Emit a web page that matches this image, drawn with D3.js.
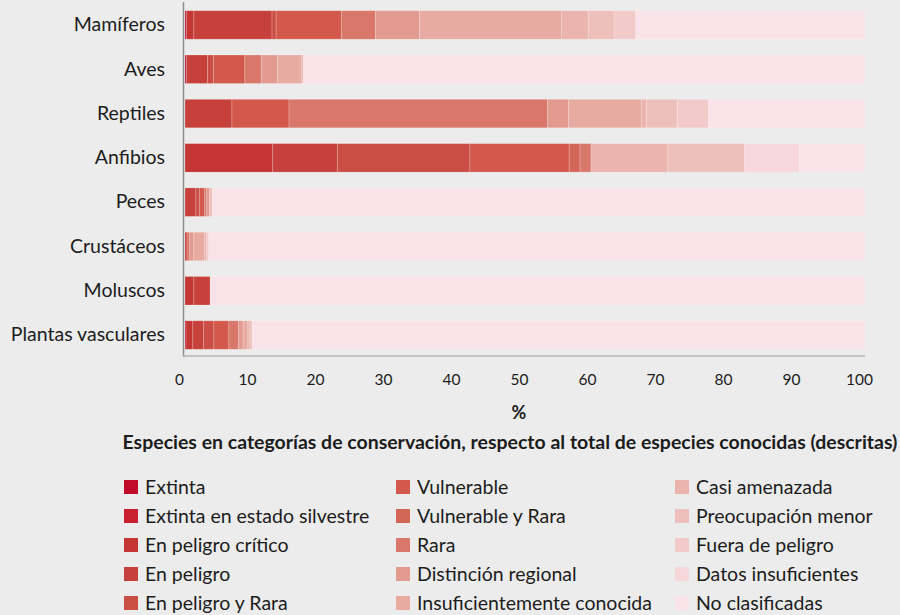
<!DOCTYPE html>
<html lang="es">
<head>
<meta charset="utf-8">
<script src="https://cdn.jsdelivr.net/npm/d3@7"></script>
<style>
  html, body { margin: 0; padding: 0; background: #ececec; }
  svg { display: block; font-family: Lato, "Open Sans", sans-serif; }
</style>
</head>
<body>
<svg id="chart" width="900" height="615"></svg>
<script>
// Grupos taxonómicos (filas) y categorías de conservación (segmentos)
const categories = ["Mamíferos", "Aves", "Reptiles", "Anfibios", "Peces", "Crustáceos", "Moluscos", "Plantas vasculares"];

const seriesNames = [
  "Extinta", "Extinta en estado silvestre", "En peligro crítico", "En peligro", "En peligro y Rara",
  "Vulnerable", "Vulnerable y Rara", "Rara", "Distinción regional", "Insuficientemente conocida",
  "Casi amenazada", "Preocupación menor", "Fuera de peligro", "Datos insuficientes", "No clasificadas"
];

const seriesColors = [
  "#c20b2b", "#c8202e", "#c43634", "#c7413c", "#cb4e45",
  "#d2594b", "#d46658", "#d8776a", "#e39a8f", "#e8aba1",
  "#ebb4ac", "#eec0bb", "#f2caca", "#f6d7da", "#fae3e8"
];

// Porcentaje de especies en cada categoría (mismo orden que seriesNames)
const mamiferos  = [0.2, 0, 1.1, 11.5, 0.6, 9.6, 0, 5.0, 6.5, 20.9, 3.9, 3.8, 3.2, 0, 33.7];
const aves       = [0.2, 0, 0, 3.1, 0.9, 4.6, 0, 2.4, 2.4, 3.5, 0.3, 0, 0, 0, 82.6];
const reptiles   = [0, 0, 0, 6.9, 0, 8.4, 0, 38.0, 3.1, 10.7, 0.8, 4.5, 4.6, 0, 23.0];
const anfibios   = [0, 0, 12.9, 9.5, 19.5, 14.6, 1.6, 1.6, 0, 0, 11.3, 11.3, 0, 8.1, 9.6];
const peces      = [0, 0, 0, 1.6, 0.5, 0.8, 0, 0.3, 0.4, 0.2, 0.2, 0, 0, 0, 96.0];
const crustaceos = [0, 0, 0, 0.3, 0, 0, 0, 0.4, 0.6, 1.6, 0.3, 0, 0.3, 0, 96.5];
const moluscos   = [0, 0, 1.3, 2.4, 0, 0, 0, 0, 0, 0, 0, 0, 0, 0, 96.3];
const plantas    = [0.15, 0, 1.0, 1.6, 1.5, 2.2, 0, 1.4, 0.7, 0.7, 0.3, 0.35, 0, 0, 90.1];

const xTicks = [0, 10, 20, 30, 40, 50, 60, 70, 80, 90, 100];
const axisTitle = "%";
const chartTitle = "Especies en categorías de conservación, respecto al total de especies conocidas (descritas)";

// Tabla para d3.stack
const rowsValues = [mamiferos, aves, reptiles, anfibios, peces, crustaceos, moluscos, plantas];
const table = categories.map((c, i) => {
  const row = { category: c };
  seriesNames.forEach((s, j) => { row[s] = rowsValues[i][j]; });
  return row;
});

const svg = d3.select("#chart");

const x = d3.scaleLinear().domain([0, 100]).range([185, 865]);
const y = d3.scaleBand().domain(categories).range([2.8, 357.2]).paddingInner(0.357).paddingOuter(0.1785);
const color = d3.scaleOrdinal().domain(seriesNames).range(seriesColors);

const stacked = d3.stack().keys(seriesNames)(table);

// Barras apiladas
svg.append("g")
  .selectAll("g")
  .data(stacked)
  .join("g")
    .attr("fill", d => color(d.key))
  .selectAll("rect")
  .data(d => d)
  .join("rect")
    .attr("x", d => x(d[0]))
    .attr("y", d => y(d.data.category))
    .attr("width", d => Math.max(0, x(d[1]) - x(d[0])))
    .attr("height", y.bandwidth())
    .attr("stroke", "#ffffff")
    .attr("stroke-opacity", d => (d[1] - d[0]) > 0 ? 0.25 : 0)
    .attr("stroke-width", 0.8);

// Ejes
svg.append("line")
  .attr("x1", 183.5).attr("x2", 183.5)
  .attr("y1", 2).attr("y2", 357)
  .attr("stroke", "#8f8f8f").attr("stroke-width", 1.5);
svg.append("line")
  .attr("x1", 183).attr("x2", 865)
  .attr("y1", 356).attr("y2", 356)
  .attr("stroke", "#b4b4b4").attr("stroke-width", 1.5);

// Etiquetas de categoría
const yAxis = d3.axisLeft(y).tickSize(0).tickPadding(0);
const gy = svg.append("g").attr("transform", "translate(165,0)").call(yAxis);
gy.select(".domain").remove();
gy.selectAll("text")
  .attr("font-family", "Lato, sans-serif")
  .attr("font-size", 19.5)
  .attr("fill", "#1c1c1c");

// Etiquetas del eje X
const xAxis = d3.axisBottom(x).tickValues(xTicks).tickSize(0).tickPadding(0);
const gx = svg.append("g").attr("transform", "translate(-6,374)").call(xAxis);
gx.select(".domain").remove();
gx.selectAll("text")
  .attr("font-family", "Lato, sans-serif")
  .attr("font-size", 15.5)
  .attr("fill", "#1c1c1c");

// Títulos
svg.append("text")
  .attr("x", 519).attr("y", 412)
  .attr("text-anchor", "middle").attr("dominant-baseline", "central")
  .attr("font-size", 18).attr("font-weight", "bold").attr("fill", "#1c1c1c")
  .text(axisTitle);

const title = svg.append("text")
  .attr("x", 510).attr("y", 441)
  .attr("text-anchor", "middle").attr("dominant-baseline", "central")
  .attr("font-size", 17).attr("font-weight", "bold").attr("fill", "#1c1c1c")
  .text(chartTitle);
const tw = title.node().getComputedTextLength();
if (tw > 0) title.attr("font-size", 17 * 775 / tw);

// Leyenda en tres columnas
const colX = [124, 396, 675];
const rowY = [480, 509, 538, 567, 596];
const legend = svg.append("g");
seriesNames.forEach((s, i) => {
  const col = Math.floor(i / 5), row = i % 5;
  const g = legend.append("g").attr("transform", `translate(${colX[col]},${rowY[row]})`);
  g.append("rect").attr("width", 14).attr("height", 14).attr("fill", color(s));
  g.append("text")
    .attr("x", 21).attr("y", 6)
    .attr("dominant-baseline", "central")
    .attr("font-size", 19.5).attr("fill", "#1c1c1c")
    .text(s);
});
</script>
</body>
</html>
